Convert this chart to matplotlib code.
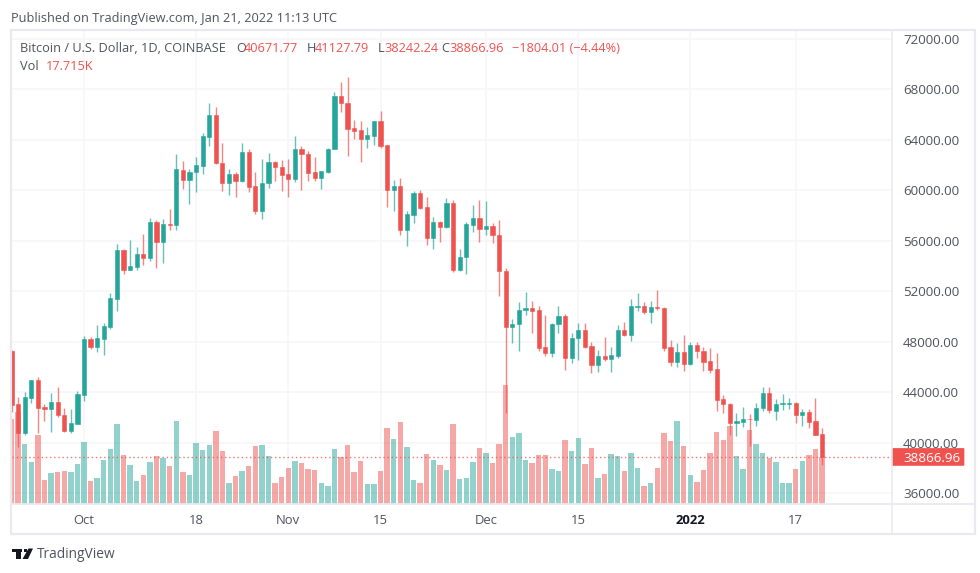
import matplotlib
matplotlib.use("Agg")
import matplotlib.pyplot as plt
import matplotlib.dates as mdates
from matplotlib.patches import Rectangle, FancyBboxPatch, Polygon
import pandas as pd

plt.rcParams["font.family"] = ["Open Sans", "DejaVu Sans"]

W, H = 980, 573
UP = "#26a69a"
DOWN = "#ef5350"
TXT = "#50535e"
GRID = "#f6f6f8"
EDGE = "#e8eaf0"

dates = pd.date_range("2021-09-20", "2022-01-21")

opens = [47264, 43035, 40734, 43563, 44938, 42797, 42639, 43194, 42163, 40940, 41449,
         43775, 48189, 47607, 48242, 49193, 51413, 55298, 53712, 53950, 54955, 54611, 57466, 55933, 57307, 57254, 61642, 60822, 61456, 61932, 64258, 65976, 62196, 60610, 61298, 60743, 63042, 60320, 58391, 60558, 62249, 61827,
         61298, 60901, 63254, 62884, 61430, 60981, 61456, 63280, 67482, 66901, 64919, 64760, 64100, 64337, 65474, 63597, 60056, 60320, 56858, 58047, 59765, 58655, 56250, 57518, 57069, 58971, 53685, 54689, 57279, 57808,
         56936, 57174, 56486, 53632, 49192, 49430, 50487, 50646, 50487, 47553, 47104, 49403, 50064, 46681, 48320, 48901, 47633, 46126, 46840, 46602, 46893, 48901, 48557, 50778, 50830, 50381, 50751, 50698, 47552, 46416, 47156,
         46204, 47711, 47261, 46442, 45808, 43429, 43085, 41526, 41658, 41870, 41790, 42715, 43931, 42530, 43085, 43085, 43112, 42161, 42398, 41684, 40671.77]
highs = [47343, 43643, 44012, 44938, 45202, 43035, 43960, 44383, 42744, 42639, 44092,
         48480, 48400, 49325, 49510, 51888, 55721, 55351, 56064, 55483, 56567, 57783, 57650, 57704, 58523, 62884, 62355, 61694, 62619, 64522, 66954, 66584, 63730, 61690, 61483, 63730, 63254, 61430, 62487, 62937, 62329, 62408,
         62487, 64311, 63518, 63122, 62619, 61562, 63360, 67773, 68566, 68963, 65580, 65500, 65000, 65500, 66320, 63597, 60822, 60954, 58364, 59924, 60029, 59500, 57888, 57571, 59422, 59235, 55323, 57464, 58839, 59235,
         59156, 57385, 57649, 53817, 49773, 51121, 51941, 51253, 50830, 50143, 49509, 50830, 50196, 48663, 49509, 49456, 47950, 47342, 48346, 47553, 49298, 49588, 51386, 51888, 51174, 51253, 52099, 50725, 48107, 47922, 48530,
         47975, 47975, 47605, 47499, 47076, 43773, 43165, 42319, 42848, 42240, 43112, 44381, 44433, 43456, 43826, 43535, 43191, 42663, 42636, 43535, 41127.79]
lows = [42454, 39671, 40600, 43114, 40734, 41740, 40813, 42057, 40860, 40790, 41449,
        43325, 47449, 47158, 46946, 49034, 50435, 53369, 53660, 53712, 54109, 54426, 53845, 54268, 56858, 56858, 60109, 58919, 59897, 61298, 63518, 62064, 59976, 59660, 59500, 60690, 59844, 58126, 57703, 60214, 60743, 59976,
        59500, 60690, 60029, 60743, 60769, 60109, 61404, 63254, 66240, 62751, 64073, 62276, 63386, 63597, 63333, 58655, 58391, 56488, 55615, 57439, 58496, 55668, 55378, 55880, 57043, 53500, 53632, 53368, 56698, 55931,
        56460, 55852, 51623, 42373, 47870, 47236, 50090, 48716, 47289, 46893, 46813, 48716, 45756, 46337, 46549, 47527, 45492, 45571, 46496, 45571, 46681, 48478, 48082, 50461, 50223, 49456, 50513, 47289, 46098, 46019, 45702,
        46151, 46680, 45702, 45544, 42478, 42319, 40601, 40548, 41262, 39729, 41341, 42530, 42372, 41790, 42583, 42636, 41579, 41341, 41182, 40601, 38242.24]
closes = [42982, 40734, 43643, 44938, 42770, 42639, 43194, 42163, 40940, 41527, 43828,
          48189, 47554, 48268, 49246, 51465, 55298, 53712, 53977, 54955, 54611, 57466, 55933, 57333, 57280, 61668, 60822, 61483, 61985, 64311, 65976, 62144, 60611, 61298, 60769, 63042, 60294, 58391, 60584, 62249, 61827, 61245,
          60901, 63254, 62857, 61404, 60954, 61509, 63306, 67482, 66901, 64866, 64734, 64100, 64390, 65474, 63544, 60056, 60320, 56858, 58100, 59765, 58602, 56250, 57518, 57095, 58972, 53685, 54742, 57332, 57808, 56936,
          57174, 56460, 53579, 49192, 49430, 50487, 50646, 50460, 47527, 47104, 49377, 50064, 46681, 48320, 48901, 47606, 46152, 46866, 46602, 46919, 48901, 48531, 50830, 50830, 50381, 50751, 50646, 47527, 46416, 47156, 46204,
          47711, 47261, 46416, 45781, 43403, 43059, 41526, 41711, 41843, 41843, 42742, 43931, 42583, 43085, 43112, 43112, 42161, 42398, 41658, 40601, 38866.96]
volumes = [32.1, 35.0, 22.8, 15.9, 26.2, 9.1, 11.8, 12.1, 12.5, 12.1, 15.2,
           23.5, 8.9, 9.9, 16.6, 20.7, 30.2, 18.5, 14.8, 8.9, 11.1, 15.8, 18.1, 17.6, 14.4, 31.5, 12.1, 11.1, 23.1, 20.5, 22.5, 27.6, 20.1, 8.1, 10.5, 12.5, 14.4, 22.1, 22.5, 18.1, 8.1, 10.1,
           13.8, 16.2, 15.4, 13.2, 12.8, 7.8, 6.8, 20.7, 17.7, 22.3, 12.1, 16.2, 7.5, 7.5, 12.5, 28.8, 24.5, 31.1, 21.8, 9.1, 8.1, 18.8, 16.6, 14.8, 12.9, 30.2, 9.4, 9.9, 15.8, 21.1,
           19.5, 15.4, 22.8, 45.2, 25.6, 26.8, 16.7, 15.4, 18.5, 18.5, 13.2, 12.5, 24.2, 20.1, 25.2, 15.2, 21.1, 9.9, 11.5, 18.8, 18.1, 12.5, 19.2, 13.8, 6.8, 8.1, 13.8, 26.8, 23.8, 31.5, 22.1,
           11.1, 8.5, 12.9, 19.2, 27.5, 24.2, 29.5, 18.1, 13.2, 28.1, 22.8, 19.2, 17.6, 15.8, 7.8, 7.8, 13.2, 16.2, 18.5, 20.7, 17.715]

price_ticks = list(range(36000, 72001, 4000))
time_ticks = ["2021-10-01", "2021-10-18", "2021-11-01", "2021-11-15", "2021-12-01", "2021-12-15", "2022-01-01", "2022-01-17"]
time_labels = ["Oct", "18", "Nov", "15", "Dec", "15", "2022", "17"]
last_close = closes[-1]

fig = plt.figure(figsize=(W / 100, H / 100), dpi=100, facecolor="white")


def px_axes(x0, y0, x1, y1, **kw):
    return fig.add_axes([x0 / W, 1 - y1 / H, (x1 - x0) / W, (y1 - y0) / H], **kw)


def label(x, y, s, color=TXT, size=9.2, **kw):
    # +1.5 px because va=center sits a little high for these digits
    fig.text(x / W, 1 - (y + 1.5) / H, s, color=color, fontsize=size, va="center", **kw)


# volume pane sits under the candles, shares the same box
x_days = mdates.date2num(dates)
oct1 = mdates.date2num(pd.Timestamp("2021-10-01"))
xlim = (oct1 + (11.5 - 84) / 6.59, oct1 + (892 - 84) / 6.59)

vol = px_axes(11.5, 30, 892, 504)
vol.set_xlim(xlim)
vol.set_ylim(0, 180)
colors = [UP if c >= o else DOWN for o, c in zip(opens, closes)]
vol.bar(x_days, volumes, width=0.82, color=colors, alpha=0.5, linewidth=0, zorder=3)
vol.set_yticks([])

ax = px_axes(11.5, 30, 892, 504)
ax.set_xlim(xlim)
ax.set_ylim(36000 - 11 * 79.3, 36000 + 463 * 79.3)
ax.patch.set_alpha(0)

for x, o, h, l, c, col in zip(x_days, opens, highs, lows, closes, colors):
    ax.vlines(x, l, h, color=col, linewidth=1.0, alpha=0.7, zorder=3)
    ax.bar(x, abs(c - o), bottom=min(o, c), width=0.64, color=col, edgecolor=col, linewidth=0.4, zorder=4)

ax.axhline(last_close, color=DOWN, linewidth=1, linestyle=(0, (1, 2)), alpha=0.8, zorder=5)

# grid goes on the lower axes so that bars cover it
tick_x = mdates.date2num(pd.to_datetime(time_ticks))
vol.set_xticks(tick_x)
vol.set_xticklabels([])
vol.grid(True, axis="x", color=GRID, linewidth=1.2, zorder=0)
vol.tick_params(length=0)
y0, y1 = ax.get_ylim()
for p in price_ticks:
    vol.axhline((p - y0) / (y1 - y0) * 180, color=GRID, linewidth=1.2, zorder=1)

ax.set_xticks([])
ax.set_yticks([])
for a in (ax, vol):
    for s in a.spines.values():
        s.set_visible(False)

# frame and axis separators
fig.add_artist(Rectangle((11 / W, 1 - 534 / H), 964 / W, 504 / H, transform=fig.transFigure, fill=False, edgecolor=EDGE, linewidth=1.6))
fig.add_artist(plt.Line2D([892 / W, 892 / W], [1 - 30 / H, 1 - 534 / H], color=EDGE, linewidth=1.1))
fig.add_artist(plt.Line2D([11 / W, 975 / W], [1 - 504 / H, 1 - 504 / H], color=EDGE, linewidth=1.3))

# price scale
for p in price_ticks:
    yy = 504 - (p - y0) / (y1 - y0) * 474
    label(903, yy, f"{p:.2f}", size=9.6)
yy = 504 - (last_close - y0) / (y1 - y0) * 474
fig.add_artist(FancyBboxPatch((892 / W, 1 - (yy + 8.5) / H), 72 / W, 17 / H, boxstyle="round,pad=0,rounding_size=0.001",
                              transform=fig.transFigure, facecolor=DOWN, edgecolor=DOWN, linewidth=0.5))
label(903, yy, f"{last_close:.2f}", color="white", size=9.6)

# time scale
for t, s in zip(tick_x, time_labels):
    xx = 84 + (t - oct1) * 6.59
    label(xx, 519, s, ha="center", color="#131722" if s == "2022" else TXT,
          fontweight="bold" if s == "2022" else "normal", size=9.4)

# header and legend
label(11, 17, "Published on TradingView.com, Jan 21, 2022 11:13 UTC")
label(20, 47, "Bitcoin / U.S. Dollar, 1D, COINBASE")
for x, pre, val in [(236, "O", "40671.77"), (307, "H", "41127.79"), (378, "L", "38242.24"), (441, "C", "38866.96")]:
    label(x, 47, pre)
    label(x + (8 if pre != "L" else 6), 47, val, color=DOWN)
label(512, 47, "\u22121804.01 (\u22124.44%)", color=DOWN)
label(20, 65, "Vol")
label(46, 65, "17.715K", color=DOWN)

# logo
LOGO = "#131722"
fig.add_artist(Rectangle((11.5 / W, 1 - 552 / H), 10.5 / W, 3.5 / H, transform=fig.transFigure, facecolor=LOGO, edgecolor="none"))
fig.add_artist(Rectangle((15.5 / W, 1 - 559 / H), 5.5 / W, 7 / H, transform=fig.transFigure, facecolor=LOGO, edgecolor="none"))
fig.add_artist(Polygon([(28.5 / W, 1 - 548.5 / H), (33 / W, 1 - 548.5 / H), (28 / W, 1 - 559 / H), (22.5 / W, 1 - 559 / H)],
                       closed=True, transform=fig.transFigure, facecolor=LOGO, edgecolor="none"))
fig.add_artist(Rectangle((24 / W, 1 - 552 / H), 3.2 / W, 3.4 / H, transform=fig.transFigure, facecolor=LOGO, edgecolor="none"))
label(37, 553, "TradingView", size=9.9)

fig.savefig("out.png", dpi=100)
